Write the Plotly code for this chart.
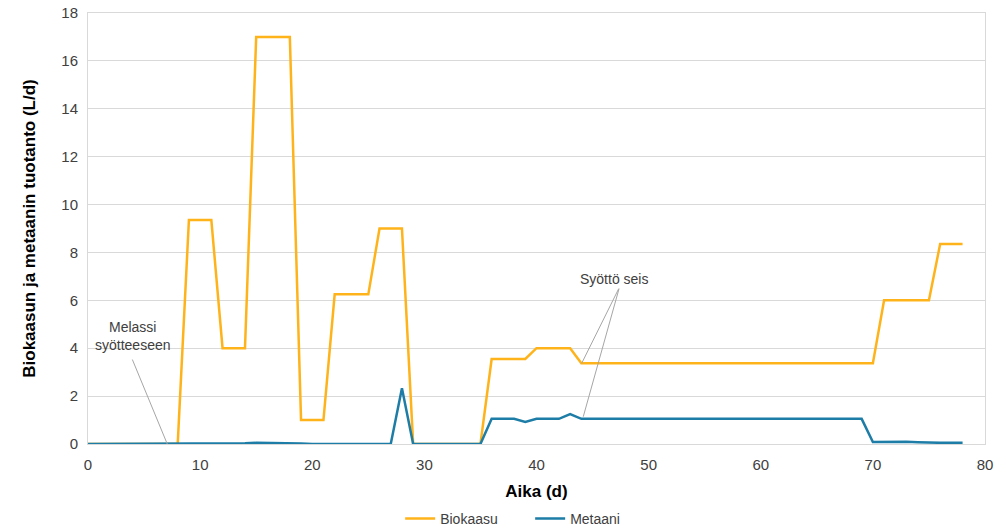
import plotly.graph_objects as go

days = list(range(0, 79))
biokaasu = ([0]*9 + [9.35, 9.35, 9.35, 4.0, 4.0, 4.0, 17.0, 17.0, 17.0, 17.0, 1.0, 1.0, 1.0,
            6.25, 6.25, 6.25, 6.25, 9.0, 9.0, 9.0] + [0]*7 +
            [3.55, 3.55, 3.55, 3.55, 4.0, 4.0, 4.0, 4.0] + [3.37]*27 +
            [6.0]*5 + [8.35]*3)
metaani = ([0]*14 + [0.03, 0.05, 0.05, 0.05, 0.05, 0.02] + [0]*8 + [2.33] + [0]*7 +
           [1.05, 1.05, 1.05, 0.92, 1.05, 1.05, 1.05, 1.25] + [1.05]*26 +
           [0.08, 0.09, 0.09, 0.09, 0.07, 0.05, 0.05, 0.05, 0.05])

ORANGE = "#FFB31A"
TEAL = "#1D7DA6"

fig = go.Figure()
fig.add_trace(go.Scatter(x=days, y=biokaasu, mode="lines", name="Biokaasu",
                         line=dict(color=ORANGE, width=2.5)))
fig.add_trace(go.Scatter(x=days, y=metaani, mode="lines", name="Metaani",
                         line=dict(color=TEAL, width=2.5)))

fig.add_annotation(x=7.07, y=0, ax=3.9, ay=3.59, xref="x", yref="y", axref="x", ayref="y",
                   text="", showarrow=True, arrowhead=0, arrowwidth=1, arrowcolor="#A6A6A6")
fig.add_annotation(x=4.0, y=4.5, text="Melassi<br>syötteeseen", showarrow=False,
                   font=dict(size=14, color="#404040"), xanchor="center", yanchor="middle")
fig.add_annotation(x=44.03, y=3.37, ax=47.4, ay=6.55, xref="x", yref="y", axref="x", ayref="y",
                   text="", showarrow=True, arrowhead=0, arrowwidth=1, arrowcolor="#A6A6A6")
fig.add_annotation(x=44.17, y=1.14, ax=47.4, ay=6.55, xref="x", yref="y", axref="x", ayref="y",
                   text="", showarrow=True, arrowhead=0, arrowwidth=1, arrowcolor="#A6A6A6")
fig.add_annotation(x=46.9, y=6.9, text="Syöttö seis", showarrow=False,
                   font=dict(size=14, color="#404040"), xanchor="center", yanchor="middle")

fig.update_layout(
    width=994, height=532,
    margin=dict(l=88, r=9, t=13, b=88),
    paper_bgcolor="white", plot_bgcolor="white",
    font=dict(family="Liberation Sans, Arial, sans-serif", size=15, color="#404040"),
    showlegend=True,
    legend=dict(orientation="h", x=0.348, xanchor="left", yref="container",
                y=0.0244, yanchor="middle", entrywidth=85, entrywidthmode="pixels",
                font=dict(size=14, color="#404040"), itemwidth=30, tracegroupgap=0),
    xaxis=dict(range=[0, 80], dtick=10, showgrid=False, zeroline=False, automargin=False,
               showline=True, linecolor="#D9D9D9", mirror=True, ticks="", ticklabelstandoff=7,
               title=dict(text="<b>Aika (d)</b>", font=dict(size=17, color="#000000"), standoff=13)),
    yaxis=dict(range=[0, 18], dtick=2, showgrid=True, gridcolor="#D9D9D9", zeroline=False,
               automargin=False, ticklabelstandoff=6,
               showline=True, linecolor="#D9D9D9", mirror=True, ticks="",
               title=dict(text="<b>Biokaasun ja metaanin tuotanto (L/d)</b>",
                          font=dict(size=17, color="#000000"), standoff=21)),
)

fig.write_html("out.html", config={"displayModeBar": False},
               post_script="document.body.style.margin='0';")
